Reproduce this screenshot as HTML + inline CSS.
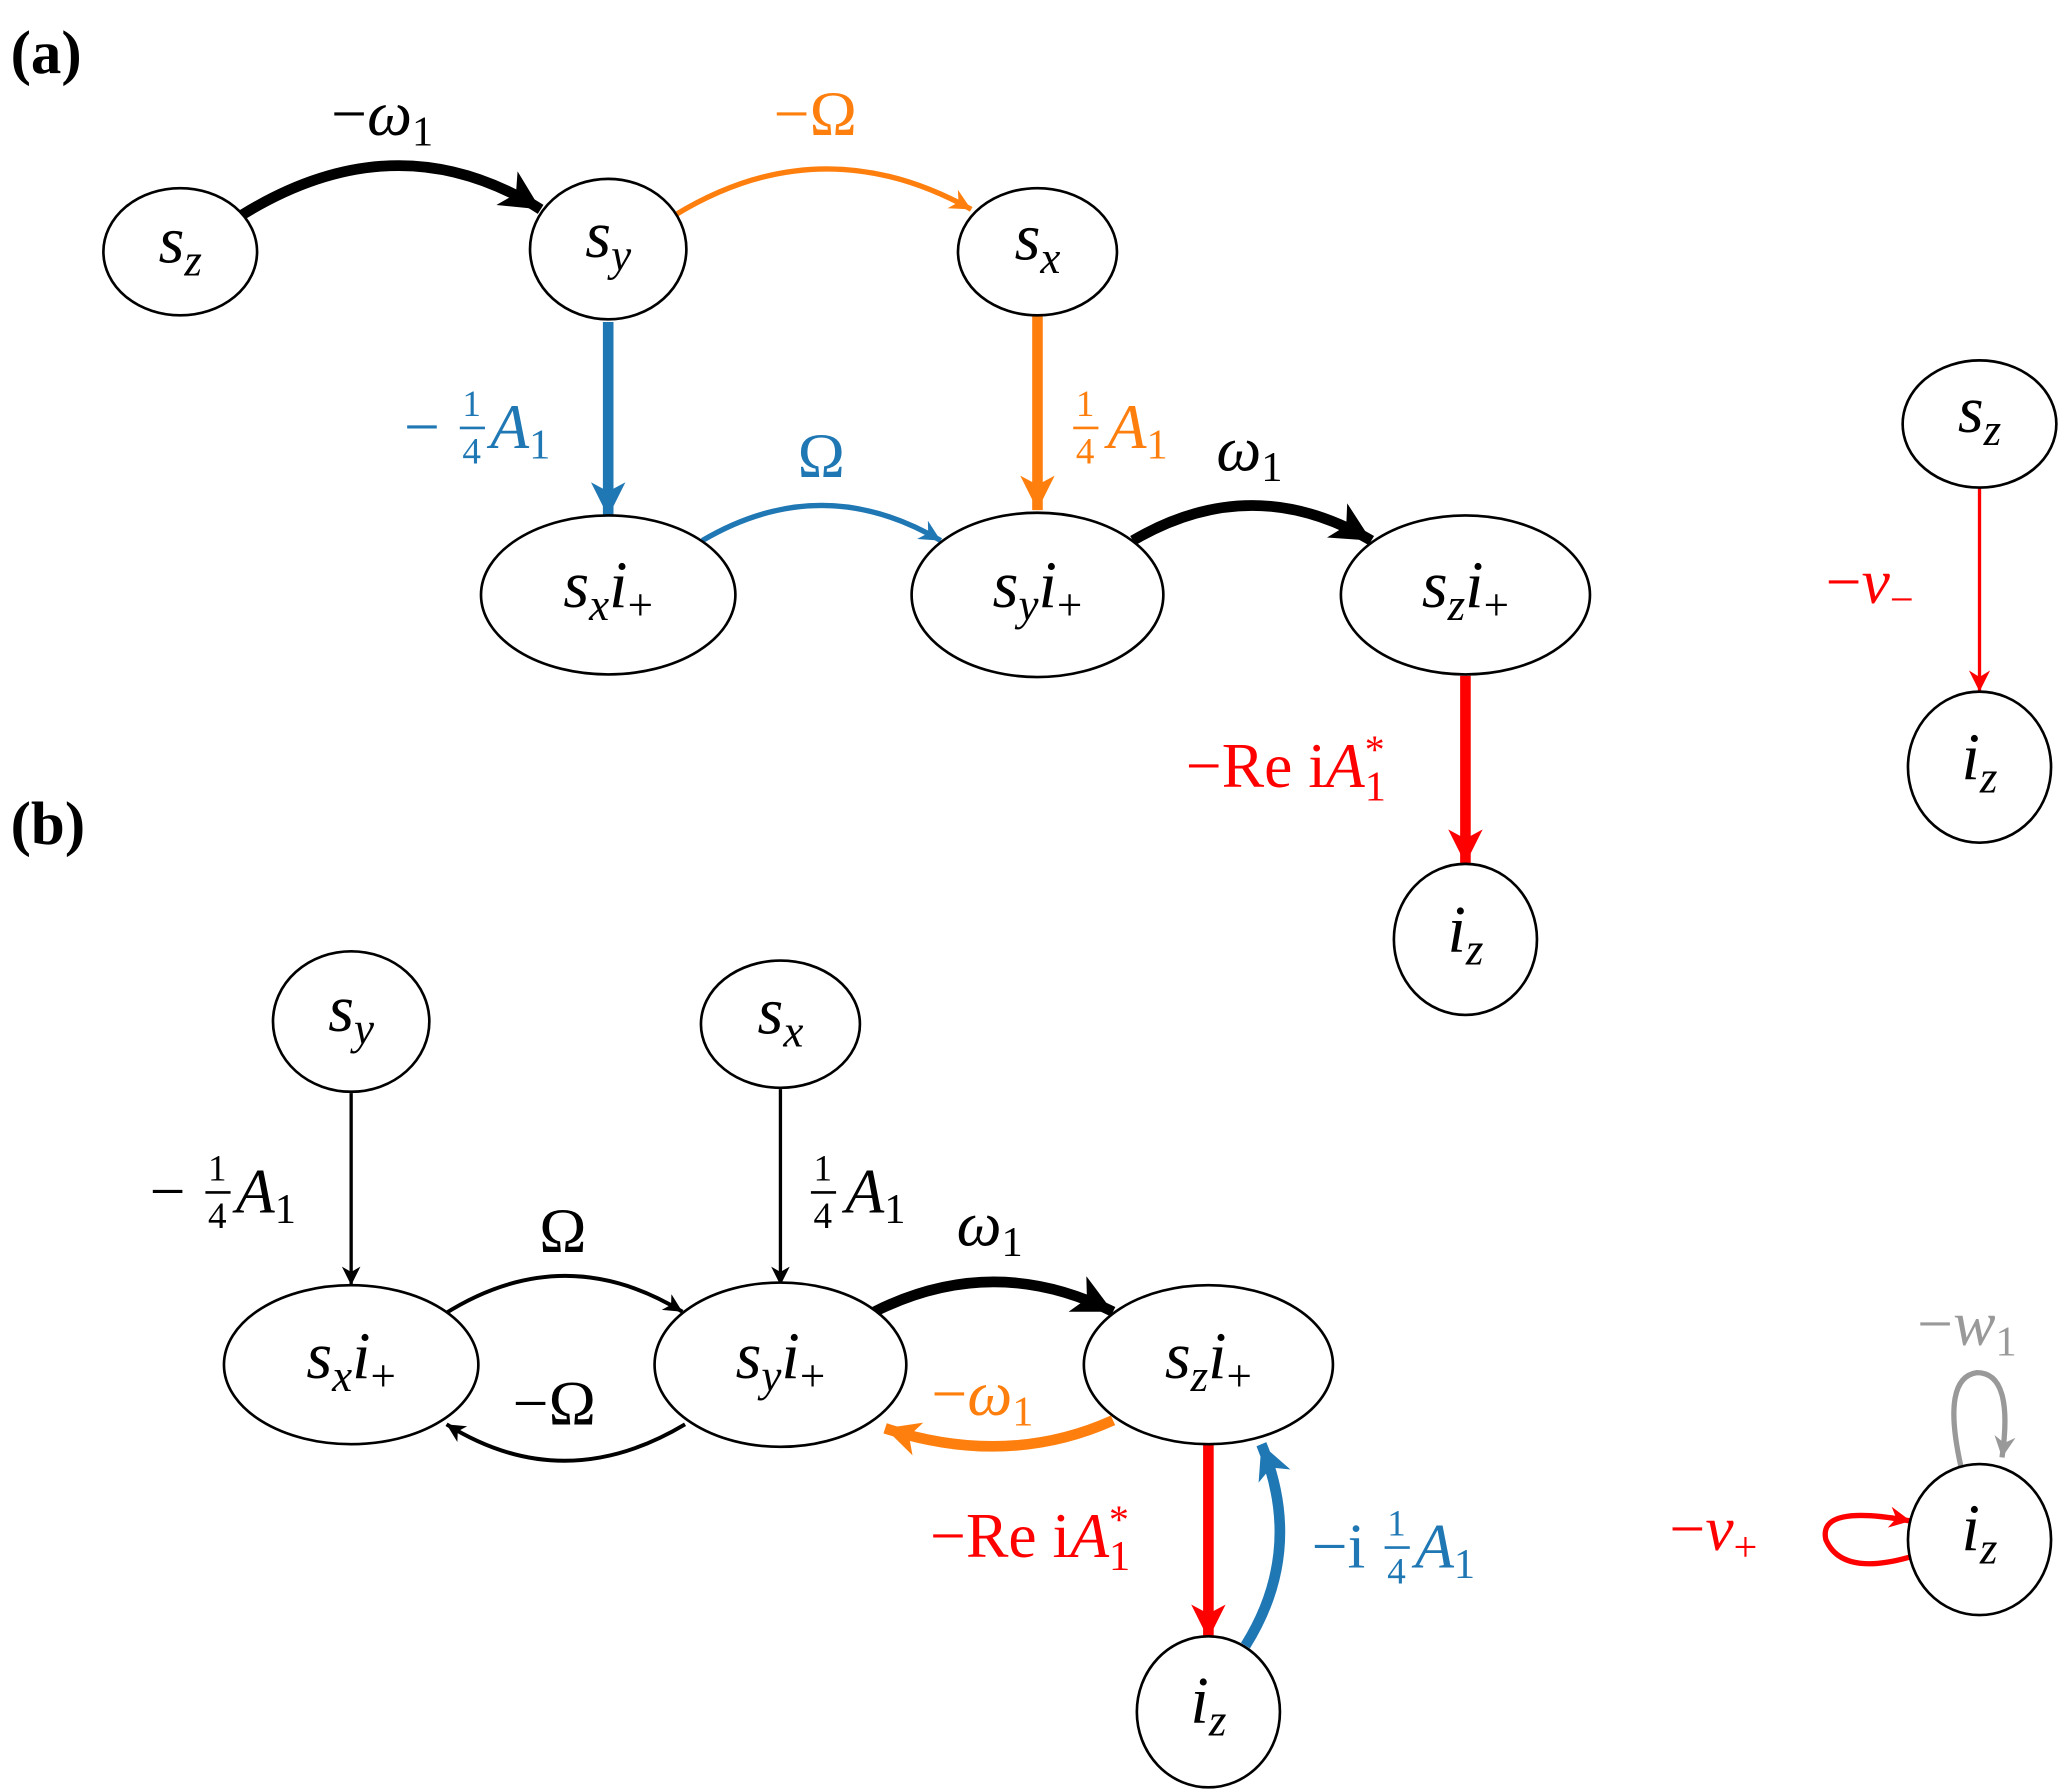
<!DOCTYPE html>
<html><head><meta charset="utf-8"><style>
html,body{margin:0;padding:0;background:#fff;}
svg{display:block;}
text{font-family:"Liberation Serif",serif;}
.it{font-style:italic;}
</style></head><body>
<svg width="2067" height="1790" viewBox="0 0 1560 1351" xmlns="http://www.w3.org/2000/svg">
<defs>
<marker id="kB" markerUnits="userSpaceOnUse" markerWidth="40" markerHeight="40" refX="30" refY="15" orient="auto"><path d="M0,0 L30,15 L0,30 L8,15 Z" fill="#000"/></marker>
<marker id="kb" markerUnits="userSpaceOnUse" markerWidth="20" markerHeight="20" refX="14" refY="7" orient="auto"><path d="M0,0 L14,7 L0,14 L4,7 Z" fill="#000"/></marker>
<marker id="oB" markerUnits="userSpaceOnUse" markerWidth="40" markerHeight="40" refX="26" refY="13" orient="auto"><path d="M0,0 L26,13 L0,26 L7,13 Z" fill="#ff7f0e"/></marker>
<marker id="ob" markerUnits="userSpaceOnUse" markerWidth="20" markerHeight="20" refX="16" refY="8" orient="auto"><path d="M0,0 L16,8 L0,16 L5,8 Z" fill="#ff7f0e"/></marker>
<marker id="bB" markerUnits="userSpaceOnUse" markerWidth="40" markerHeight="40" refX="26" refY="13" orient="auto"><path d="M0,0 L26,13 L0,26 L7,13 Z" fill="#1f77b4"/></marker>
<marker id="bb" markerUnits="userSpaceOnUse" markerWidth="20" markerHeight="20" refX="16" refY="8" orient="auto"><path d="M0,0 L16,8 L0,16 L5,8 Z" fill="#1f77b4"/></marker>
<marker id="rB" markerUnits="userSpaceOnUse" markerWidth="40" markerHeight="40" refX="26" refY="13" orient="auto"><path d="M0,0 L26,13 L0,26 L7,13 Z" fill="#f00"/></marker>
<marker id="rb" markerUnits="userSpaceOnUse" markerWidth="20" markerHeight="20" refX="16" refY="8" orient="auto"><path d="M0,0 L16,8 L0,16 L5,8 Z" fill="#f00"/></marker>
<marker id="gb" markerUnits="userSpaceOnUse" markerWidth="20" markerHeight="24" refX="16" refY="8" orient="auto"><path d="M0,0 L16,8 L0,16 L5,8 Z" fill="#999"/></marker>
</defs>

<text x="8" y="55" font-size="46" font-weight="bold">(a)</text>
<text x="8" y="637" font-size="46" font-weight="bold">(b)</text>

<g fill="none" stroke-linecap="butt">
<path d="M183,162 Q300,90 408,158" stroke="#000" stroke-width="8" marker-end="url(#kB)"/>
<path d="M510,162 Q620,95 733,158" stroke="#ff7f0e" stroke-width="4" marker-end="url(#ob)"/>
<path d="M459,243 L459,390" stroke="#1f77b4" stroke-width="8" marker-end="url(#bB)"/>
<path d="M783,238 L783,385" stroke="#ff7f0e" stroke-width="8" marker-end="url(#oB)"/>
<path d="M530,408 Q620,355 710,408" stroke="#1f77b4" stroke-width="4" marker-end="url(#bb)"/>
<path d="M855,408 Q945,355 1035,408" stroke="#000" stroke-width="8" marker-end="url(#kB)"/>
<path d="M1106,510 L1106,652" stroke="#f00" stroke-width="8" marker-end="url(#rB)"/>
<path d="M1494,368 L1494,522" stroke="#f00" stroke-width="2.5" marker-end="url(#rb)"/>
<path d="M265,825 L265,970" stroke="#000" stroke-width="2.5" marker-end="url(#kb)"/>
<path d="M589,822 L589,970" stroke="#000" stroke-width="2.5" marker-end="url(#kb)"/>
<path d="M335,992 Q425,935 515,990" stroke="#000" stroke-width="3" marker-end="url(#kb)"/>
<path d="M517,1075 Q425,1130 337,1075" stroke="#000" stroke-width="3" marker-end="url(#kb)"/>
<path d="M660,990 Q750,945 840,990" stroke="#000" stroke-width="8" marker-end="url(#kB)"/>
<path d="M840,1072 Q760,1108 668,1078" stroke="#ff7f0e" stroke-width="8" marker-end="url(#oB)"/>
<path d="M912,1090 L912,1237" stroke="#f00" stroke-width="8" marker-end="url(#rB)"/>
<path d="M940,1242 Q985,1170 952,1090" stroke="#1f77b4" stroke-width="8" marker-end="url(#bB)"/>
<path d="M1480,1107 Q1465,1040 1492,1036 Q1520,1036 1511,1100" stroke="#999" stroke-width="4" marker-end="url(#gb)"/>
<path d="M1442,1175 Q1390,1190 1378,1162 Q1372,1135 1442,1148" stroke="#f00" stroke-width="4" marker-end="url(#rb)"/>
</g>

<g fill="#fff" stroke="#000" stroke-width="2">
<ellipse cx="136" cy="190" rx="58" ry="48"/>
<ellipse cx="459" cy="188" rx="59" ry="53"/>
<ellipse cx="783" cy="190" rx="60" ry="48"/>
<ellipse cx="459" cy="449" rx="96" ry="60"/>
<ellipse cx="783" cy="449" rx="95" ry="62"/>
<ellipse cx="1106" cy="449" rx="94" ry="60"/>
<ellipse cx="1106" cy="709" rx="54" ry="57"/>
<ellipse cx="1494" cy="320" rx="58" ry="48"/>
<ellipse cx="1494" cy="579" rx="54" ry="57"/>
<ellipse cx="265" cy="771" rx="59" ry="53"/>
<ellipse cx="589" cy="773" rx="60" ry="48"/>
<ellipse cx="265" cy="1030" rx="96" ry="60"/>
<ellipse cx="589" cy="1030" rx="95" ry="62"/>
<ellipse cx="912" cy="1030" rx="94" ry="60"/>
<ellipse cx="912" cy="1292" rx="54" ry="57"/>
<ellipse cx="1494" cy="1162" rx="54" ry="57"/>
</g>

<g font-size="50" class="it" text-anchor="middle">
<text x="136" y="198">s<tspan font-size="34" dy="10">z</tspan></text>
<text x="459" y="194">s<tspan font-size="34" dy="10">y</tspan></text>
<text x="783" y="196">s<tspan font-size="34" dy="10">x</tspan></text>
<text x="459" y="458">s<tspan font-size="34" dy="10">x</tspan><tspan dy="-10">i</tspan><tspan font-size="34" font-style="normal" dy="10">+</tspan></text>
<text x="783" y="458">s<tspan font-size="34" dy="10">y</tspan><tspan dy="-10">i</tspan><tspan font-size="34" font-style="normal" dy="10">+</tspan></text>
<text x="1106" y="458">s<tspan font-size="34" dy="10">z</tspan><tspan dy="-10">i</tspan><tspan font-size="34" font-style="normal" dy="10">+</tspan></text>
<text x="1106" y="718">i<tspan font-size="34" dy="10">z</tspan></text>
<text x="1494" y="326">s<tspan font-size="34" dy="10">z</tspan></text>
<text x="1494" y="588">i<tspan font-size="34" dy="10">z</tspan></text>
<text x="265" y="778">s<tspan font-size="34" dy="10">y</tspan></text>
<text x="589" y="780">s<tspan font-size="34" dy="10">x</tspan></text>
<text x="265" y="1040">s<tspan font-size="34" dy="10">x</tspan><tspan dy="-10">i</tspan><tspan font-size="34" font-style="normal" dy="10">+</tspan></text>
<text x="589" y="1040">s<tspan font-size="34" dy="10">y</tspan><tspan dy="-10">i</tspan><tspan font-size="34" font-style="normal" dy="10">+</tspan></text>
<text x="912" y="1040">s<tspan font-size="34" dy="10">z</tspan><tspan dy="-10">i</tspan><tspan font-size="34" font-style="normal" dy="10">+</tspan></text>
<text x="912" y="1300">i<tspan font-size="34" dy="10">z</tspan></text>
<text x="1494" y="1170">i<tspan font-size="34" dy="10">z</tspan></text>
</g>

<g font-size="48">
<text x="250" y="102">−<tspan class="it">ω</tspan><tspan font-size="32" dy="8">1</tspan></text>
<text x="584" y="102" fill="#ff7f0e">−Ω</text>
<text x="305" y="338" fill="#1f77b4">−</text>
<text x="349" y="314" font-size="28" fill="#1f77b4">1</text>
<text x="349" y="350" font-size="28" fill="#1f77b4">4</text>
<line x1="347" y1="323" x2="366" y2="323" stroke="#1f77b4" stroke-width="2"/>
<text x="370" y="338" fill="#1f77b4"><tspan class="it">A</tspan><tspan font-size="32" dy="8">1</tspan></text>

<text x="812" y="314" font-size="28" fill="#ff7f0e">1</text>
<text x="812" y="350" font-size="28" fill="#ff7f0e">4</text>
<line x1="810" y1="323" x2="829" y2="323" stroke="#ff7f0e" stroke-width="2"/>
<text x="836" y="338" fill="#ff7f0e"><tspan class="it">A</tspan><tspan font-size="32" dy="8">1</tspan></text>

<text x="602" y="360" fill="#1f77b4">Ω</text>
<text x="918" y="355"><tspan class="it">ω</tspan><tspan font-size="32" dy="8">1</tspan></text>
<text x="895" y="594" fill="#f00">−Re i<tspan class="it">A</tspan><tspan font-size="30" dy="-18">*</tspan><tspan font-size="32" dx="-15" dy="28">1</tspan></text>
<text x="1378" y="455" fill="#f00">−<tspan class="it">v</tspan><tspan font-size="32" dy="8">−</tspan></text>

<text x="113" y="915">−</text>
<text x="157" y="891" font-size="28">1</text>
<text x="157" y="927" font-size="28">4</text>
<line x1="155" y1="900" x2="174" y2="900" stroke="#000" stroke-width="2"/>
<text x="178" y="915"><tspan class="it">A</tspan><tspan font-size="32" dy="8">1</tspan></text>

<text x="614" y="891" font-size="28">1</text>
<text x="614" y="927" font-size="28">4</text>
<line x1="612" y1="900" x2="631" y2="900" stroke="#000" stroke-width="2"/>
<text x="638" y="915"><tspan class="it">A</tspan><tspan font-size="32" dy="8">1</tspan></text>

<text x="407" y="945">Ω</text>
<text x="387" y="1075">−Ω</text>
<text x="722" y="940"><tspan class="it">ω</tspan><tspan font-size="32" dy="8">1</tspan></text>
<text x="703" y="1068" fill="#ff7f0e">−<tspan class="it">ω</tspan><tspan font-size="32" dy="8">1</tspan></text>
<text x="702" y="1175" fill="#f00">−Re i<tspan class="it">A</tspan><tspan font-size="30" dy="-18">*</tspan><tspan font-size="32" dx="-15" dy="28">1</tspan></text>
<text x="990" y="1183" fill="#1f77b4">−i</text>
<text x="1047" y="1159" font-size="28" fill="#1f77b4">1</text>
<text x="1047" y="1195" font-size="28" fill="#1f77b4">4</text>
<line x1="1045" y1="1168" x2="1064" y2="1168" stroke="#1f77b4" stroke-width="2"/>
<text x="1068" y="1183" fill="#1f77b4"><tspan class="it">A</tspan><tspan font-size="32" dy="8">1</tspan></text>
<text x="1447" y="1015" fill="#999">−<tspan class="it">w</tspan><tspan font-size="32" dy="8">1</tspan></text>
<text x="1260" y="1170" fill="#f00">−<tspan class="it">v</tspan><tspan font-size="32" dy="8">+</tspan></text>
</g>
</svg>
</body></html>
